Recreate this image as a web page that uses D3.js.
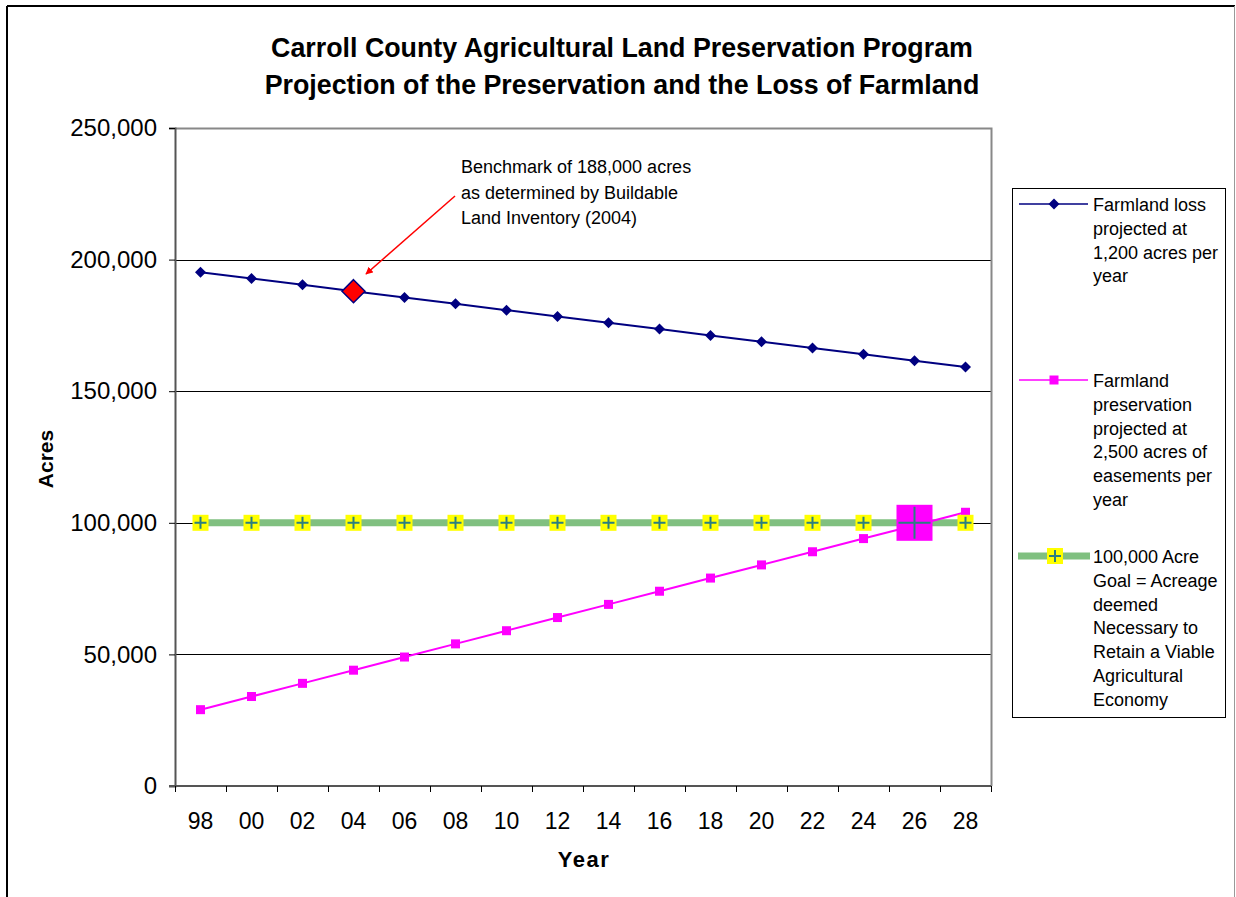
<!DOCTYPE html>
<html>
<head>
<meta charset="utf-8">
<script src="https://cdn.jsdelivr.net/npm/d3@7"></script>
<style>
body { margin: 0; background: #fff; }
text { font-family: "Liberation Sans", Arial, sans-serif; }
</style>
</head>
<body>
<script>
// data
const years = ["98", "00", "02", "04", "06", "08", "10", "12", "14", "16", "18", "20", "22", "24", "26", "28"];
const lossValues = [195200, 192800, 190400, 188000, 185600, 183200, 180800, 178400, 176000, 173600, 171200, 168800, 166400, 164000, 161600, 159200];
const preserveValues = [29000, 34000, 39000, 44000, 49000, 54000, 59000, 64000, 69000, 74000, 79000, 84000, 89000, 94000, 99000, 104000];
const goalValues = [100000, 100000, 100000, 100000, 100000, 100000, 100000, 100000, 100000, 100000, 100000, 100000, 100000, 100000, 100000, 100000];
const yTicks = [0, 50000, 100000, 150000, 200000, 250000];
const titleLines = ["Carroll County Agricultural Land Preservation Program", "Projection of the Preservation and the Loss of Farmland"];
const noteLines = ["Benchmark of 188,000 acres", "as determined by Buildable", "Land Inventory (2004)"];
const legendItems = [
    ["Farmland loss", "projected at", "1,200 acres per", "year"],
    ["Farmland", "preservation", "projected at", "2,500 acres of", "easements per", "year"],
    ["100,000 Acre", "Goal = Acreage", "deemed", "Necessary to", "Retain a Viable", "Agricultural", "Economy"]
];
const benchmarkIndex = 3;   // 04
const goalHitIndex = 14;    // 26

const width = 1236;
const height = 897;
const margin = { top: 128, left: 175, right: 245, bottom: 111 };

const navy = "#000080";
const pink = "#ff00ff";
const green = "#80c080";
const teal = "#2a7f80";

let svg = d3.select("body")
    .append("svg")
    .attr("width", width)
    .attr("height", height);

// outer chart border
svg.append("line").attr("x1", 7).attr("y1", 6).attr("x2", 1235).attr("y2", 6)
    .attr("stroke", "#000").attr("stroke-width", 2);
svg.append("line").attr("x1", 7).attr("y1", 6).attr("x2", 7).attr("y2", height)
    .attr("stroke", "#000").attr("stroke-width", 2);
svg.append("line").attr("x1", 1234.5).attr("y1", 6).attr("x2", 1234.5).attr("y2", height)
    .attr("stroke", "#999").attr("stroke-width", 1);

let x = d3.scaleBand()
    .domain(years)
    .range([margin.left, width - margin.right])
    .padding(0);
let cx = function(i) { return x(years[i]) + x.bandwidth() / 2; };

let y = d3.scaleLinear()
    .domain([0, 250000])
    .range([height - margin.bottom, margin.top]);

// title
svg.append("g").selectAll("text")
    .data(titleLines)
    .enter()
    .append("text")
    .attr("x", 622)
    .attr("y", function(d, i) { return 57 + i * 37; })
    .attr("text-anchor", "middle")
    .style("font-size", "26.8px")
    .style("font-weight", "bold")
    .text(function(d) { return d; });

// gridlines
svg.append("g").selectAll("line")
    .data(yTicks.slice(1, -1))
    .enter()
    .append("line")
    .attr("x1", margin.left)
    .attr("x2", width - margin.right)
    .attr("y1", function(d) { return Math.round(y(d)) + 0.5; })
    .attr("y2", function(d) { return Math.round(y(d)) + 0.5; })
    .attr("stroke", "#000")
    .attr("stroke-width", 1);

// plot area top and right edges
svg.append("path")
    .attr("d", "M" + margin.left + "," + (margin.top + 0.5) + "H" + (width - margin.right + 0.5) + "V" + (height - margin.bottom))
    .attr("fill", "none")
    .attr("stroke", "#888")
    .attr("stroke-width", 2);

// y axis
let yAxis = svg.append("g")
    .attr("transform", "translate(" + margin.left + ",0)")
    .call(d3.axisLeft(y).tickValues(yTicks).tickSize(6).tickPadding(12).tickFormat(d3.format(",")));
yAxis.select(".domain").attr("stroke", "#555").attr("stroke-width", 2);
yAxis.selectAll(".tick line").attr("stroke", "#000");
yAxis.selectAll(".tick text")
    .style("font-size", "24px")
    .style("font-family", "'Liberation Sans', Arial, sans-serif")
    .attr("fill", "#000");

// x axis: ticks sit between categories
let xAxis = svg.append("g")
    .attr("transform", "translate(0," + (height - margin.bottom) + ")");
xAxis.append("line")
    .attr("x1", margin.left - 6)
    .attr("x2", width - margin.right)
    .attr("stroke", "#555")
    .attr("stroke-width", 2);
xAxis.selectAll(".xtick")
    .data(years.concat(["end"]))
    .enter()
    .append("line")
    .attr("class", "xtick")
    .attr("x1", function(d, i) { return Math.round(margin.left + i * x.bandwidth()) + 0.5; })
    .attr("x2", function(d, i) { return Math.round(margin.left + i * x.bandwidth()) + 0.5; })
    .attr("y1", 0)
    .attr("y2", 6)
    .attr("stroke", "#000");
xAxis.selectAll(".xlabel")
    .data(years)
    .enter()
    .append("text")
    .attr("class", "xlabel")
    .attr("x", function(d, i) { return cx(i); })
    .attr("y", 43)
    .attr("text-anchor", "middle")
    .style("font-size", "23px")
    .text(function(d) { return d; });

// axis titles
svg.append("text")
    .attr("x", 584)
    .attr("y", 867)
    .attr("text-anchor", "middle")
    .style("font-size", "22px")
    .style("font-weight", "bold")
    .style("letter-spacing", "1.5px")
    .text("Year");
svg.append("text")
    .attr("transform", "translate(53,459) rotate(-90)")
    .attr("text-anchor", "middle")
    .style("font-size", "21px")
    .style("font-weight", "bold")
    .text("Acres");

let line = d3.line()
    .x(function(d, i) { return cx(i); })
    .y(function(d) { return y(d); });

// goal line (thick green)
svg.append("path")
    .datum(goalValues)
    .attr("d", line)
    .attr("fill", "none")
    .attr("stroke", green)
    .attr("stroke-width", 7);

// preservation line
svg.append("path")
    .datum(preserveValues)
    .attr("d", line)
    .attr("fill", "none")
    .attr("stroke", pink)
    .attr("stroke-width", 2);

// loss line
svg.append("path")
    .datum(lossValues)
    .attr("d", line)
    .attr("fill", "none")
    .attr("stroke", navy)
    .attr("stroke-width", 2);

// preservation markers
svg.append("g").selectAll("rect")
    .data(preserveValues)
    .enter()
    .append("rect")
    .attr("x", function(d, i) { return cx(i) - 4.5; })
    .attr("y", function(d) { return y(d) - 4.5; })
    .attr("width", 9)
    .attr("height", 9)
    .attr("fill", pink);

// loss markers
let diamond = function(s) { return "M0," + (-s) + "L" + s + ",0L0," + s + "L" + (-s) + ",0Z"; };
svg.append("g").selectAll("path")
    .data(lossValues)
    .enter()
    .filter(function(d, i) { return i !== benchmarkIndex; })
    .append("path")
    .attr("d", diamond(5.5))
    .attr("transform", function(d) { return "translate(" + cx(lossValues.indexOf(d)) + "," + y(d) + ")"; })
    .attr("fill", navy);

// benchmark marker
svg.append("path")
    .attr("d", diamond(11.5))
    .attr("transform", "translate(" + cx(benchmarkIndex) + "," + y(lossValues[benchmarkIndex]) + ")")
    .attr("fill", "#ff0000")
    .attr("stroke", navy)
    .attr("stroke-width", 1.5);

// goal markers: yellow squares with a teal plus
let plus = function(s) { return "M" + (-s) + ",0H" + s + "M0," + (-s) + "V" + s; };
let goalMarks = svg.append("g").selectAll("g")
    .data(goalValues)
    .enter()
    .append("g")
    .attr("transform", function(d, i) { return "translate(" + cx(i) + "," + y(d) + ")"; });
goalMarks.append("rect")
    .attr("x", function(d, i) { return i === goalHitIndex ? -18 : -8; })
    .attr("y", function(d, i) { return i === goalHitIndex ? -18 : -8; })
    .attr("width", function(d, i) { return i === goalHitIndex ? 36 : 16; })
    .attr("height", function(d, i) { return i === goalHitIndex ? 36 : 16; })
    .attr("fill", function(d, i) { return i === goalHitIndex ? pink : "#ffff00"; });
goalMarks.append("path")
    .attr("d", function(d, i) { return i === goalHitIndex ? plus(16) : plus(6); })
    .attr("stroke", teal)
    .attr("stroke-width", 2);

// annotation
svg.append("g").selectAll("text")
    .data(noteLines)
    .enter()
    .append("text")
    .attr("x", 461)
    .attr("y", function(d, i) { return 173 + i * 25.5; })
    .style("font-size", "18px")
    .text(function(d) { return d; });
svg.append("defs").append("marker")
    .attr("id", "arrow")
    .attr("viewBox", "0 0 10 10")
    .attr("refX", 9)
    .attr("refY", 5)
    .attr("markerWidth", 5)
    .attr("markerHeight", 5)
    .attr("orient", "auto")
    .append("path")
    .attr("d", "M0,0L10,5L0,10Z")
    .attr("fill", "#ff0000");
svg.append("line")
    .attr("x1", 455)
    .attr("y1", 196)
    .attr("x2", 366)
    .attr("y2", 274)
    .attr("stroke", "#ff0000")
    .attr("stroke-width", 1.5)
    .attr("marker-end", "url(#arrow)");

// legend
let legend = svg.append("g");
legend.append("rect")
    .attr("x", 1012.5)
    .attr("y", 188.5)
    .attr("width", 213)
    .attr("height", 529)
    .attr("fill", "#fff")
    .attr("stroke", "#000");

let legendTop = [204, 380, 556];
legendItems.forEach(function(lines, k) {
    let ly = legendTop[k];
    let g = legend.append("g");
    if (k === 0) {
        g.append("line").attr("x1", 1019).attr("x2", 1088).attr("y1", ly).attr("y2", ly)
            .attr("stroke", navy).attr("stroke-width", 1.5);
        g.append("path").attr("d", diamond(5.5)).attr("transform", "translate(1054," + ly + ")").attr("fill", navy);
    } else if (k === 1) {
        g.append("line").attr("x1", 1019).attr("x2", 1088).attr("y1", ly).attr("y2", ly)
            .attr("stroke", pink).attr("stroke-width", 1.5);
        g.append("rect").attr("x", 1049.5).attr("y", ly - 4.5).attr("width", 9).attr("height", 9).attr("fill", pink);
    } else {
        g.append("line").attr("x1", 1018).attr("x2", 1090).attr("y1", ly).attr("y2", ly)
            .attr("stroke", green).attr("stroke-width", 7);
        g.append("rect").attr("x", 1047).attr("y", ly - 8).attr("width", 16).attr("height", 16).attr("fill", "#ffff00");
        g.append("path").attr("d", plus(6)).attr("transform", "translate(1055," + ly + ")")
            .attr("stroke", teal).attr("stroke-width", 2);
    }
    g.selectAll("text")
        .data(lines)
        .enter()
        .append("text")
        .attr("x", 1093)
        .attr("y", function(d, i) { return ly + 7 + i * 23.8; })
        .style("font-size", "18px")
        .text(function(d) { return d; });
});
</script>
</body>
</html>
